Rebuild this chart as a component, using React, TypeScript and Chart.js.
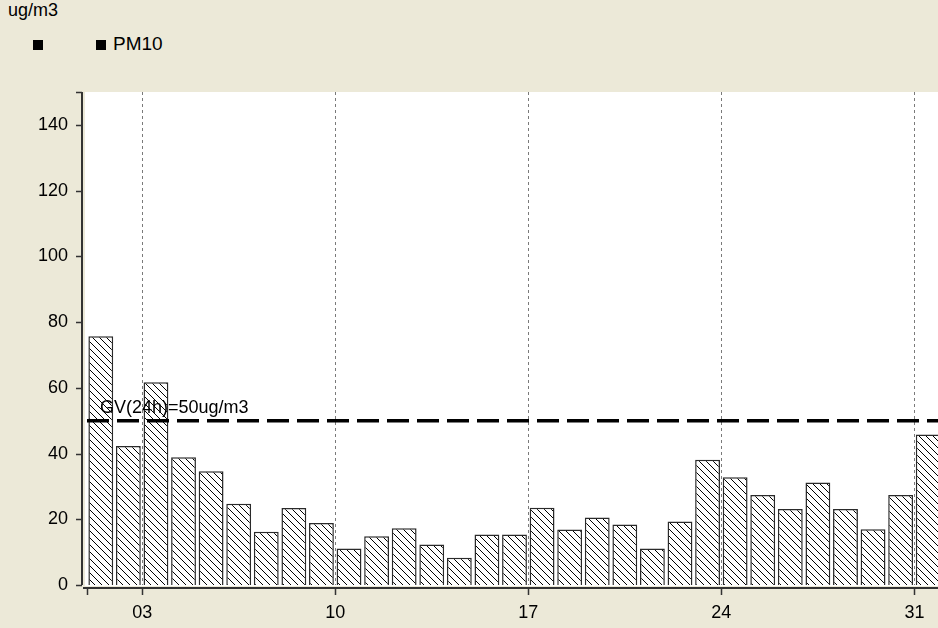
import React, { useEffect, useRef } from "react";
import { Chart, registerables } from "chart.js";

Chart.register(...registerables);

const days = [1, 2, 3, 4, 5, 6, 7, 8, 9, 10, 11, 12, 13, 14, 15, 16, 17, 18, 19, 20, 21, 22, 23, 24, 25, 26, 27, 28, 29, 30, 31];
const pm10 = [75.7, 42.3, 61.7, 38.9, 34.6, 24.7, 16.2, 23.4, 18.9, 11.1, 14.8, 17.3, 12.3, 8.3, 15.4, 15.4, 23.5, 16.9, 20.5, 18.4, 11.1, 19.3, 38.1, 32.8, 27.4, 23.1, 31.2, 23.1, 17.0, 27.4, 45.8];
const guideValue = 50;
const guideLabel = "GV(24h)=50ug/m3";
const xTickValues = [3, 10, 17, 24, 31];
const yTickValues = [0, 20, 40, 60, 80, 100, 120, 140];
const yMin = 0;
const yMax = 150;
const xMin = 1;
const xMax = 32;
const unitLabel = "ug/m3";
const seriesName = "PM10";

const FONT = "'Liberation Sans', Arial, sans-serif";
const BG = "#ECE9D8";

function makeHatch(): CanvasPattern | string {
  const s = 7;
  const c = document.createElement("canvas");
  c.width = s;
  c.height = s;
  const g = c.getContext("2d");
  if (!g) return "#fff";
  g.fillStyle = "#fff";
  g.fillRect(0, 0, s, s);
  g.strokeStyle = "#000";
  g.lineWidth = 1;
  g.beginPath();
  g.moveTo(-1, -1);
  g.lineTo(s + 1, s + 1);
  g.moveTo(-1, s - 1);
  g.lineTo(1, s + 1);
  g.moveTo(s - 1, -1);
  g.lineTo(s + 1, 1);
  g.stroke();
  const p = g.createPattern(c, "repeat");
  return p || "#fff";
}

const decor = {
  id: "decor",
  beforeDraw(chart: any) {
    const { ctx, chartArea: a, scales } = chart;
    const x = scales.x;
    ctx.save();
    ctx.fillStyle = "#fff";
    ctx.fillRect(a.left - 2, a.top, a.right - a.left + 40, a.bottom - a.top + 1);
    ctx.strokeStyle = "#7a7a7a";
    ctx.lineWidth = 1;
    ctx.setLineDash([3, 3]);
    for (const t of xTickValues) {
      const px = Math.round(x.getPixelForValue(t)) + 0.5;
      ctx.beginPath();
      ctx.moveTo(px, a.top);
      ctx.lineTo(px, a.bottom);
      ctx.stroke();
    }
    ctx.restore();
  },
  afterDatasetsDraw(chart: any) {
    const { ctx, chartArea: a, scales } = chart;
    const x = scales.x;
    const y = scales.y;
    ctx.save();
    ctx.strokeStyle = "#333";
    ctx.lineWidth = 2;
    const ax = a.left - 5;
    const yTop = y.getPixelForValue(yMax);
    const yBot = y.getPixelForValue(yMin);
    ctx.beginPath();
    ctx.moveTo(ax, yTop);
    ctx.lineTo(ax, yBot);
    ctx.stroke();
    ctx.lineWidth = 1.5;
    ctx.beginPath();
    for (const v of [...yTickValues, yMax]) {
      const py = Math.round(y.getPixelForValue(v)) + 0.5;
      ctx.moveTo(ax - 6, py);
      ctx.lineTo(ax, py);
    }
    ctx.stroke();
    ctx.lineWidth = 2;
    const bx = a.bottom + 3;
    ctx.beginPath();
    ctx.moveTo(a.left - 4, bx);
    ctx.lineTo(a.right + 40, bx);
    ctx.stroke();
    ctx.lineWidth = 1.5;
    ctx.beginPath();
    for (const v of [xMin, ...xTickValues]) {
      const px = Math.round(x.getPixelForValue(v)) + 0.5;
      ctx.moveTo(px, bx);
      ctx.lineTo(px, bx + 7);
    }
    ctx.stroke();
    ctx.fillStyle = "#000";
    ctx.font = `18px ${FONT}`;
    ctx.textAlign = "left";
    ctx.textBaseline = "alphabetic";
    ctx.fillText(guideLabel, x.getPixelForValue(xMin) + 13, y.getPixelForValue(guideValue) - 8);
    ctx.restore();
  },
};

export default function App() {
  const ref = useRef<HTMLCanvasElement | null>(null);
  useEffect(() => {
    const el = ref.current;
    if (!el) return;
    const hatch = makeHatch();
    const chart = new Chart(el, {
      type: "bar",
      data: {
        datasets: [
          {
            type: "line" as any,
            label: "",
            data: [
              { x: xMin, y: guideValue },
              { x: xMax, y: guideValue },
            ],
            borderColor: "#000",
            borderWidth: 3.5,
            borderDash: [22, 8],
            pointRadius: 0,
            order: 1,
          } as any,
          {
            type: "bar",
            label: seriesName,
            data: days.map((d, i) => ({ x: d + 0.5, y: pm10[i] })),
            backgroundColor: hatch as any,
            borderColor: "#2a2a2a",
            borderWidth: 1.5,
            barPercentage: 0.9,
            categoryPercentage: 1,
            order: 2,
          } as any,
        ],
      },
      options: {
        animation: false,
        responsive: false,
        maintainAspectRatio: false,
        layout: { padding: { left: 0, right: 960 - 942, top: 92, bottom: 0 } },
        plugins: { legend: { display: false }, tooltip: { enabled: false }, title: { display: false } },
        scales: {
          x: {
            type: "linear",
            min: xMin,
            max: xMax,
            offset: false,
            grid: { display: false, drawTicks: false, offset: false },
            border: { display: false },
            afterBuildTicks: (s: any) => {
              s.ticks = xTickValues.map((v) => ({ value: v }));
            },
            afterFit: (s: any) => {
              s.height = 628 - 585;
            },
            ticks: {
              autoSkip: false,
              maxRotation: 0,
              padding: 17,
              color: "#000",
              font: { family: FONT, size: 18 },
              callback: (v: any) => String(v).padStart(2, "0"),
            },
          },
          y: {
            type: "linear",
            min: yMin,
            max: yMax,
            grid: { display: false, drawTicks: false },
            border: { display: false },
            afterBuildTicks: (s: any) => {
              s.ticks = yTickValues.map((v) => ({ value: v }));
            },
            afterFit: (s: any) => {
              s.width = 87;
            },
            ticks: {
              padding: 19,
              color: "#000",
              font: { family: FONT, size: 18 },
            },
          },
        },
      },
      plugins: [decor],
    });
    return () => chart.destroy();
  }, []);

  return (
    <div style={{ position: "fixed", left: 0, top: 0, width: 938, height: 628, overflow: "hidden", background: BG, fontFamily: FONT, color: "#000" }}>
      <div style={{ position: "absolute", left: 8, top: 0, fontSize: 18 }}>{unitLabel}</div>
      <div style={{ position: "absolute", left: 33, top: 40, width: 10, height: 10, background: "#000" }} />
      <div style={{ position: "absolute", left: 96, top: 40, width: 10, height: 10, background: "#000" }} />
      <div style={{ position: "absolute", left: 113, top: 33, fontSize: 19 }}>{seriesName}</div>
      <canvas ref={ref} width={960} height={628} style={{ position: "absolute", left: 0, top: 0, width: 960, height: 628 }} />
    </div>
  );
}
